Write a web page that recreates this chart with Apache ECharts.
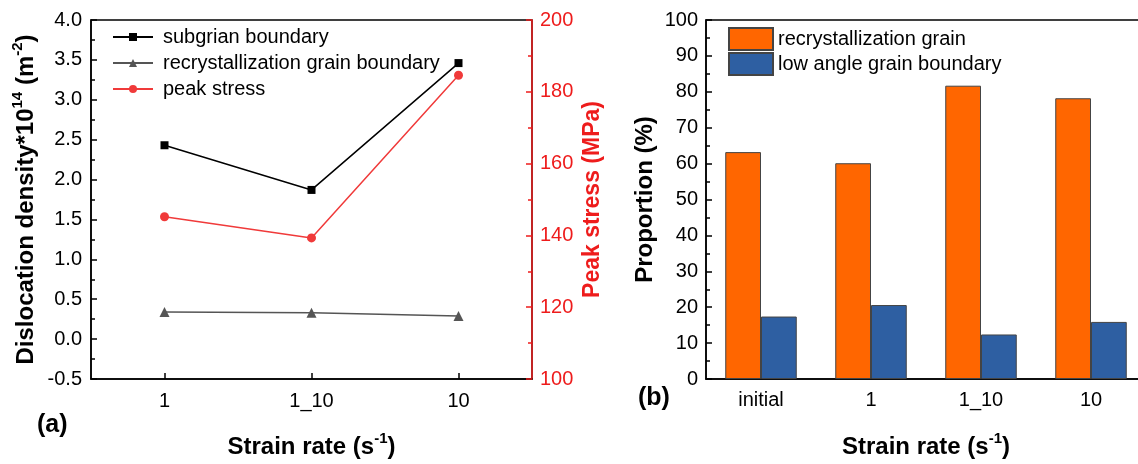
<!DOCTYPE html>
<html>
<head>
<meta charset="utf-8">
<script src="https://cdn.jsdelivr.net/npm/echarts@6/dist/echarts.min.js"></script>
<style>html,body{margin:0;padding:0;background:#fff;overflow:hidden}#c{width:1150px;height:464px}</style>
</head>
<body>
<div id="c"></div>
<script>
// ---- data ----
const leftCategories = ['1', '1_10', '10'];
const subgrainBoundary = [2.43, 1.87, 3.46];
const recrystBoundary = [0.34, 0.33, 0.29];
const peakStress = [145.2, 139.3, 184.6];

const barCategories = ['initial', '1', '1_10', '10'];
const recrystGrain = [63.2, 60.1, 81.7, 78.2];
const lowAngleBoundary = [17.4, 20.6, 12.4, 15.9];

const FONT = '"Liberation Sans", Arial, sans-serif';
const RED = '#EE1C1C';
const LINE_RED = '#F03A3A';

const chart = echarts.init(document.getElementById('c'), null, {renderer: 'canvas'});

function titleRich(color) {
  return {
    a: {fontFamily: FONT, fontSize: 24, fontWeight: 'bold', color: color, lineHeight: 30, verticalAlign: 'bottom'},
    s: {fontFamily: FONT, fontSize: 15, fontWeight: 'bold', color: color, lineHeight: 15, verticalAlign: 'top', padding: [2, 0, 0, 0]}
  };
}

const tickLabel = {fontFamily: FONT, fontSize: 20, color: '#000'};
const axisLineBlack = {show: true, onZero: false, lineStyle: {color: '#000', width: 1.5}};

const option = {
  animation: false,
  backgroundColor: '#fff',
  textStyle: {fontFamily: FONT},
  grid: [
    {left: 91, top: 20, width: 441, height: 361, show: true, borderColor: '#000', borderWidth: 1.5, backgroundColor: 'transparent'},
    {left: 706, top: 20, width: 440, height: 362, show: true, borderColor: '#000', borderWidth: 1.5, backgroundColor: 'transparent'}
  ],
  legend: [
    {
      data: ['subgrian boundary', 'recrystallization grain boundary', 'peak stress'],
      orient: 'vertical', left: 112, top: 27, padding: 0,
      itemWidth: 40, itemHeight: 10, itemGap: 6,
      textStyle: {fontFamily: FONT, fontSize: 20, color: '#000', lineHeight: 20, padding: [0, 0, 0, 5]}
    },
    {
      data: ['recrystallization grain', 'low angle grain boundary'],
      orient: 'vertical', left: 728, top: 27, padding: 0,
      icon: 'rect',
      itemWidth: 44, itemHeight: 22, itemGap: 1,
      textStyle: {fontFamily: FONT, fontSize: 20, color: '#000', lineHeight: 22}
    }
  ],
  xAxis: [
    {
      gridIndex: 0, type: 'category', data: leftCategories, boundaryGap: true,
      axisLine: axisLineBlack,
      axisTick: {show: true, inside: true, alignWithLabel: true, length: 6, lineStyle: {color: '#000', width: 1.5}},
      axisLabel: Object.assign({margin: 12}, tickLabel),
      splitLine: {show: false},
      name: '{a|Strain rate (s}{s|-1}{a|)}',
      nameLocation: 'middle', nameGap: 50,
      nameTextStyle: {rich: titleRich('#000')}
    },
    {
      gridIndex: 1, type: 'category', data: barCategories, boundaryGap: true,
      axisLine: axisLineBlack,
      axisTick: {show: true, inside: true, alignWithLabel: true, length: 6, lineStyle: {color: '#000', width: 1.5}},
      axisLabel: Object.assign({margin: 11}, tickLabel),
      splitLine: {show: false},
      name: '{a|Strain rate (s}{s|-1}{a|)}',
      nameLocation: 'middle', nameGap: 50,
      nameTextStyle: {rich: titleRich('#000')}
    }
  ],
  yAxis: [
    {
      gridIndex: 0, type: 'value', position: 'left', min: -0.5, max: 4.0, interval: 0.5,
      axisLine: axisLineBlack,
      axisTick: {show: true, inside: true, length: 6, lineStyle: {color: '#000', width: 1.5}},
      minorTick: {show: true, splitNumber: 2, length: 4, lineStyle: {color: '#000', width: 1.5}},
      axisLabel: Object.assign({margin: 9, formatter: v => v.toFixed(1)}, tickLabel),
      splitLine: {show: false},
      name: '{a|Dislocation density*10}{s|14}{a| (m}{s|-2}{a|)}',
      nameLocation: 'middle', nameGap: 53,
      nameTextStyle: {rich: titleRich('#000')}
    },
    {
      gridIndex: 0, type: 'value', position: 'right', min: 100, max: 200, interval: 20,
      axisLine: {show: true, onZero: false, lineStyle: {color: RED, width: 1.5}},
      axisTick: {show: true, inside: true, length: 6, lineStyle: {color: RED, width: 1.5}},
      minorTick: {show: true, splitNumber: 2, length: 4, lineStyle: {color: RED, width: 1.5}},
      axisLabel: Object.assign({}, tickLabel, {color: RED, margin: 8}),
      splitLine: {show: false},
      name: 'Peak stress (MPa)',
      nameLocation: 'middle', nameGap: 49,
      nameTextStyle: {fontFamily: FONT, fontSize: 23, fontWeight: 'bold', color: RED}
    },
    {
      gridIndex: 1, type: 'value', min: 0, max: 100, interval: 10,
      axisLine: axisLineBlack,
      axisTick: {show: true, inside: true, length: 6, lineStyle: {color: '#000', width: 1.5}},
      minorTick: {show: true, splitNumber: 2, length: 4, lineStyle: {color: '#000', width: 1.5}},
      axisLabel: Object.assign({margin: 8}, tickLabel),
      splitLine: {show: false},
      name: 'Proportion (%)',
      nameLocation: 'middle', nameGap: 49,
      nameTextStyle: {fontFamily: FONT, fontSize: 24, fontWeight: 'bold', color: '#000'}
    }
  ],
  series: [
    {
      name: 'subgrian boundary', type: 'line', xAxisIndex: 0, yAxisIndex: 0,
      data: subgrainBoundary, symbol: 'rect', symbolSize: 8,
      lineStyle: {color: '#000', width: 1.5}, itemStyle: {color: '#000'}
    },
    {
      name: 'recrystallization grain boundary', type: 'line', xAxisIndex: 0, yAxisIndex: 0,
      data: recrystBoundary, symbol: 'triangle', symbolSize: 10,
      lineStyle: {color: '#555', width: 1.5}, itemStyle: {color: '#555'}
    },
    {
      name: 'peak stress', type: 'line', xAxisIndex: 0, yAxisIndex: 1,
      data: peakStress, symbol: 'circle', symbolSize: 9,
      lineStyle: {color: LINE_RED, width: 1.5}, itemStyle: {color: LINE_RED}
    },
    {
      name: 'recrystallization grain', type: 'bar', xAxisIndex: 1, yAxisIndex: 2,
      data: recrystGrain, barWidth: '32.5%', barGap: '0%',
      itemStyle: {color: '#FF6600', borderColor: '#444', borderWidth: 1}
    },
    {
      name: 'low angle grain boundary', type: 'bar', xAxisIndex: 1, yAxisIndex: 2,
      data: lowAngleBoundary, barWidth: '32.5%', barGap: '0%',
      itemStyle: {color: '#2E5FA2', borderColor: '#444', borderWidth: 1}
    }
  ],
  graphic: [
    {type: 'text', left: 37, top: 413, style: {text: '(a)', fontFamily: FONT, fontSize: 25, fontWeight: 'bold', fill: '#000'}},
    {type: 'text', left: 638, top: 386, style: {text: '(b)', fontFamily: FONT, fontSize: 25, fontWeight: 'bold', fill: '#000'}}
  ]
};
chart.setOption(option);
</script>
</body>
</html>
